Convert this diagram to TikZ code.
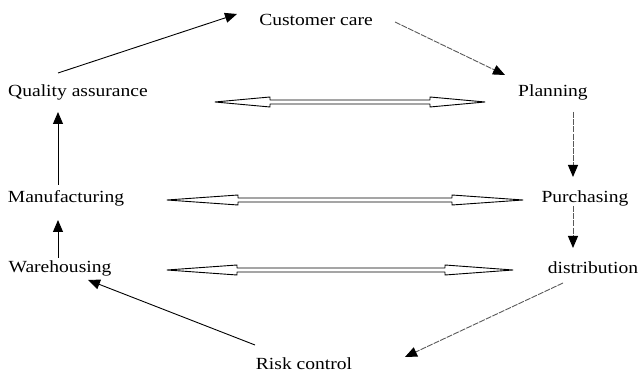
\documentclass[tikz,border=0pt]{standalone}
\usepackage{fontspec}
\setmainfont{Liberation Serif}[FakeStretch=1.15]
\usetikzlibrary{arrows.meta,calc}
\tikzset{
  lbl/.style={inner sep=1pt, font=\fontsize{17}{17}\selectfont},
  flow/.style={line width=0.9pt, -{Triangle[length=12pt,width=10pt,color=black,fill=black]}},
  faint/.style={flow, draw=black!65, dash pattern=on 6pt off 1.2pt},
  hollow/.style={line width=0.9pt, fill=white, line join=round}
}
% two-headed hollow arrow: y, left tip, left shoulder, right shoulder, right tip
\newcommand{\hollowarrow}[5]{%
  \draw[hollow] (#2,#1) -- (#3,#1-5) -- (#3,#1-2) -- (#4,#1-2) -- (#4,#1-5)
    -- (#5,#1) -- (#4,#1+5) -- (#4,#1+2) -- (#3,#1+2) -- (#3,#1+5) -- cycle;}
\begin{document}
\begin{tikzpicture}[x=1pt,y=-1pt]
\useasboundingbox (0,0) rectangle (641,379);

\node[lbl] (cc) at (316,20)  {Customer care};
\node[lbl] (qa) at (78,92)   {Quality assurance};
\node[lbl] (pl) at (553,92)  {Planning};
\node[lbl] (mf) at (66,198)  {Manufacturing};
\node[lbl] (pu) at (585,198) {Purchasing};
\node[lbl] (wh) at (60,268)  {Warehousing};
\node[lbl] (di) at (593,268) {distribution};
\node[lbl] (rc) at (304,364) {Risk control};

% outer cycle
\draw[flow]  ($(qa)+(-20,-19)$) -- ($(cc)+(-79,-6)$);
\draw[faint] ($(cc)+(79,2)$)    -- ($(pl)+(-48,-17)$);
\draw[faint] ($(pl)+(20,20)$)   -- ($(pu)+(-12,-21)$);
\draw[faint] ($(pu)+(-12,8)$)   -- ($(di)+(-20,-20)$);
\draw[faint] ($(di)+(-30,15)$)  -- ($(rc)+(101,-7)$);
\draw[flow]  ($(rc)+(-49,-19)$) -- ($(wh)+(28,12)$);
\draw[flow]  ($(wh)+(-2,-10)$)  -- ($(mf)+(-8,22)$);
\draw[flow]  ($(mf)+(-8,-13)$)  -- ($(qa)+(-20,20)$);

% links between the two columns
\hollowarrow{102}{215}{270}{430}{485}
\hollowarrow{200}{167}{238}{452}{523}
\hollowarrow{270}{167}{237}{445}{513}
\end{tikzpicture}
\end{document}
